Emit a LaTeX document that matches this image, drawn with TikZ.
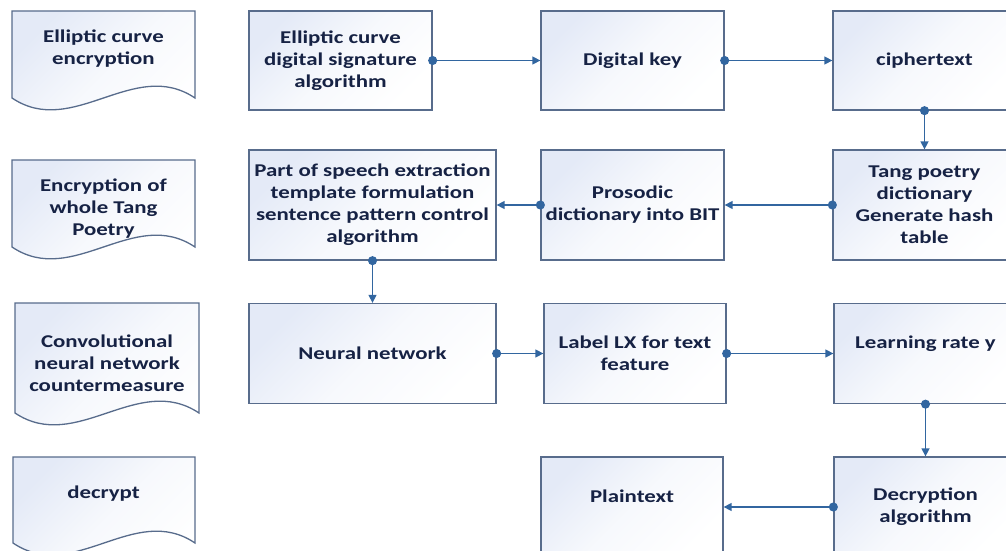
\documentclass[tikz,border=0pt]{standalone}
\usepackage{fontspec}
\newfontfamily\boxfont{Carlito}[FakeStretch=1.27]
\usetikzlibrary{arrows.meta}

\definecolor{edgegray}{RGB}{88,108,140}
\definecolor{linkblue}{RGB}{50,102,160}
\definecolor{inkblue}{RGB}{22,34,68}
\definecolor{tintblue}{RGB}{228,234,247}

\tikzset{
  boxtext/.style={font=\boxfont\bfseries\fontsize{18}{22}\selectfont, text=inkblue, align=center},
  shadefill/.style={top color=tintblue, bottom color=white, middle color=tintblue!30!white, shading angle=45},
  box/.style={boxtext, shadefill, draw=edgegray, line width=1.3pt, inner sep=0pt,
    minimum width=183pt, minimum height=99pt},
  docshape/.style={shadefill, draw=edgegray, line width=1.3pt},
  link/.style={draw=linkblue, line width=1.4pt, shorten <=-4.5pt,
    {Circle[length=9pt,width=9pt]}-{Triangle[length=8pt,width=8pt]}}
}

% wavy-bottom document symbol: left, top, right, side bottom
\newcommand\wavydoc[4]{%
  \path[docshape] (#1,#2) -- (#3,#2) -- (#3,#4)
    .. controls ({#1+2*(#3-#1)/3},{#4-41}) and ({#1+(#3-#1)/3},{#4+41}) .. (#1,#4) -- cycle;}

\begin{document}
\begin{tikzpicture}[x=1pt, y=-1pt]
\useasboundingbox (0,0) rectangle (1006,551);
\clip (0,0) rectangle (1006,551);

% left column: document symbols
\wavydoc{12}{11}{195}{98}
\node[boxtext] (doc1) at (103.5,49) {Elliptic curve\\encryption};
\wavydoc{12}{160}{195}{247}
\node[boxtext] (doc2) at (103.5,209) {Encryption of\\whole Tang\\Poetry};
\wavydoc{15}{303}{199}{413}
\node[boxtext] (doc3) at (107,363) {Convolutional\\neural network\\countermeasure};
\wavydoc{13}{457}{195}{543}
\node[boxtext] (doc4) at (103.5,494) {decrypt};

% row 1
\node[box] (ecdsa) at (340.5,60.5) {Elliptic curve\\digital signature\\algorithm};
\node[box] (dkey) at (632.5,60.5) {Digital key};
\node[box] (cipher) at (924.5,60.5) {ciphertext};

% row 2
\node[box, minimum width=247pt, minimum height=110pt] (pos) at (372.5,205)
  {Part of speech extraction\\template formulation\\sentence pattern control\\algorithm};
\node[box, minimum height=110pt] (prosodic) at (632.5,205) {Prosodic\\dictionary into BIT};
\node[box, minimum height=110pt] (tang) at (924.5,205)
  {Tang poetry\\dictionary\\Generate hash\\table};

% row 3
\node[box, minimum width=247pt, minimum height=100pt] (neural) at (372.5,353.5) {Neural network};
\node[box, minimum width=182pt, minimum height=100pt] (label) at (635,353.5) {Label LX for text\\feature};
\node[box, minimum height=100pt] (learn) at (925.5,353.5) {Learning rate y\\\mbox{}};

% row 4
\node[box, minimum width=182pt, minimum height=100pt] (plain) at (632,507) {Plaintext\\\mbox{}};
\node[box, minimum height=100pt] (decrypt) at (925.5,507) {Decryption\\algorithm};

% connectors
\draw[link] (ecdsa.east) -- (dkey.west);
\draw[link] (dkey.east) -- (cipher.west);
\draw[link] (cipher.south) -- (tang.north);
\draw[link] (tang.west) -- (prosodic.east);
\draw[link] (prosodic.west) -- (pos.east);
\draw[link] (pos.south) -- (neural.north);
\draw[link] (neural.east) -- (label.west);
\draw[link] (label.east) -- (learn.west);
\draw[link] (learn.south) -- (decrypt.north);
\draw[link] (decrypt.west) -- (plain.east);
\end{tikzpicture}
\end{document}
